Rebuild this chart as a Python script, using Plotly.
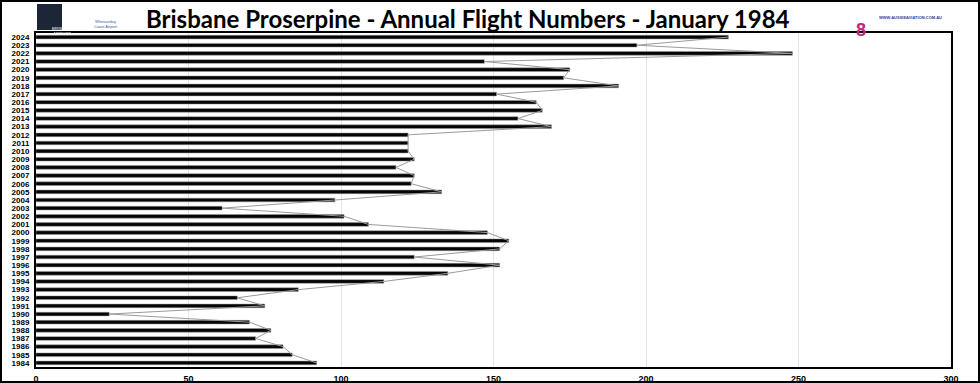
import plotly.graph_objects as go

years = [str(y) for y in range(1984, 2025)]
flights = [92, 84, 81, 72, 77, 70, 24, 75, 66, 86,
           114, 135, 152, 124, 152, 155, 148, 109, 101, 61,
           98, 133, 123, 124, 118, 124, 122, 122, 122, 169,
           158, 166, 164, 151, 191, 173, 175, 147, 248, 197,
           227]
x_ticks = [0, 50, 100, 150, 200, 250, 300]
title_text = "Brisbane Proserpine - Annual Flight Numbers - January 1984"

W, H = 980, 383
ML, MR, MT, MB = 36, 29, 33, 16
PW, PH = W - ML - MR, H - MT - MB

def px(x):
    return (x - ML) / PW

def py(y):
    return 1 - (y - MT) / PH

fig = go.Figure()
fig.add_trace(go.Bar(
    x=flights, y=years, orientation="h",
    marker=dict(color="#050505", line=dict(color="#9a9a9a", width=0.5)),
    width=0.45, showlegend=False, hoverinfo="x+y",
))
fig.add_trace(go.Scatter(
    x=flights, y=years, mode="lines",
    line=dict(color="#9a9a9a", width=1), showlegend=False, hoverinfo="skip",
))

fig.update_layout(
    width=W, height=H,
    margin=dict(l=ML, r=MR, t=MT, b=MB, autoexpand=False),
    paper_bgcolor="white", plot_bgcolor="white",
    font=dict(family="Arial, Liberation Sans", color="black"),
    xaxis=dict(range=[0, 300], tickmode="array", tickvals=x_ticks,
               ticktext=[str(v) for v in x_ticks], automargin=False,
               showgrid=True, gridcolor="#e4e4e4", gridwidth=1, zeroline=False,
               showline=True, linecolor="black", linewidth=2, mirror=True,
               tickfont=dict(size=9, family="Liberation Sans", weight="bold"),
               ticks="", ticklabelstandoff=2),
    yaxis=dict(type="category", categoryorder="array", categoryarray=years,
               tickmode="array", tickvals=years, ticktext=years, automargin=False,
               range=[-0.5, len(years) - 0.5],
               showgrid=False, showline=True, linecolor="black", linewidth=2, mirror=True,
               tickfont=dict(size=8, family="Liberation Sans", weight="bold"),
               ticks="", ticklabelstandoff=3),
    bargap=0.5,
)

# outer frame
fig.add_shape(type="rect", xref="paper", yref="paper",
              x0=px(1), x1=px(W - 1), y0=py(H - 1), y1=py(1),
              line=dict(color="black", width=2), fillcolor="rgba(0,0,0,0)", layer="above")

fig.add_annotation(text="<b>" + title_text + "</b>", xref="paper", yref="paper",
                   x=px(467.5), y=py(18), xanchor="center", yanchor="middle",
                   showarrow=False, font=dict(size=24, family="Lato", color="black"))

# logo placeholders (approximate)
fig.add_shape(type="rect", xref="paper", yref="paper",
              x0=px(37), x1=px(62), y0=py(30), y1=py(4),
              fillcolor="#1d2538", line=dict(width=0))
fig.add_annotation(text="BRISBANE<br>AIRPORT", xref="paper", yref="paper",
                   x=px(49.5), y=py(24), showarrow=False,
                   font=dict(size=4, color="white", family="Liberation Sans"))
fig.add_annotation(text="Whitsunday<br>Coast Airport", xref="paper", yref="paper",
                   x=px(92), y=py(17), showarrow=False,
                   font=dict(size=4, color="#3a5fa0", family="Liberation Sans"))
fig.add_annotation(text="<b>WWW.AUSSIEAVIATION.COM.AU</b>", xref="paper", yref="paper",
                   x=px(877), y=py(13), xanchor="left", showarrow=False,
                   font=dict(size=4, color="#3a3aa0", family="Liberation Sans"))
fig.add_annotation(text="<b>8</b>", xref="paper", yref="paper",
                   x=px(868), y=py(18), xanchor="right", showarrow=False,
                   font=dict(size=18, color="#c0267a", family="Liberation Sans"))

fig.write_html("out.html", config={"displayModeBar": False},
               post_script="document.body.style.margin='0';")
